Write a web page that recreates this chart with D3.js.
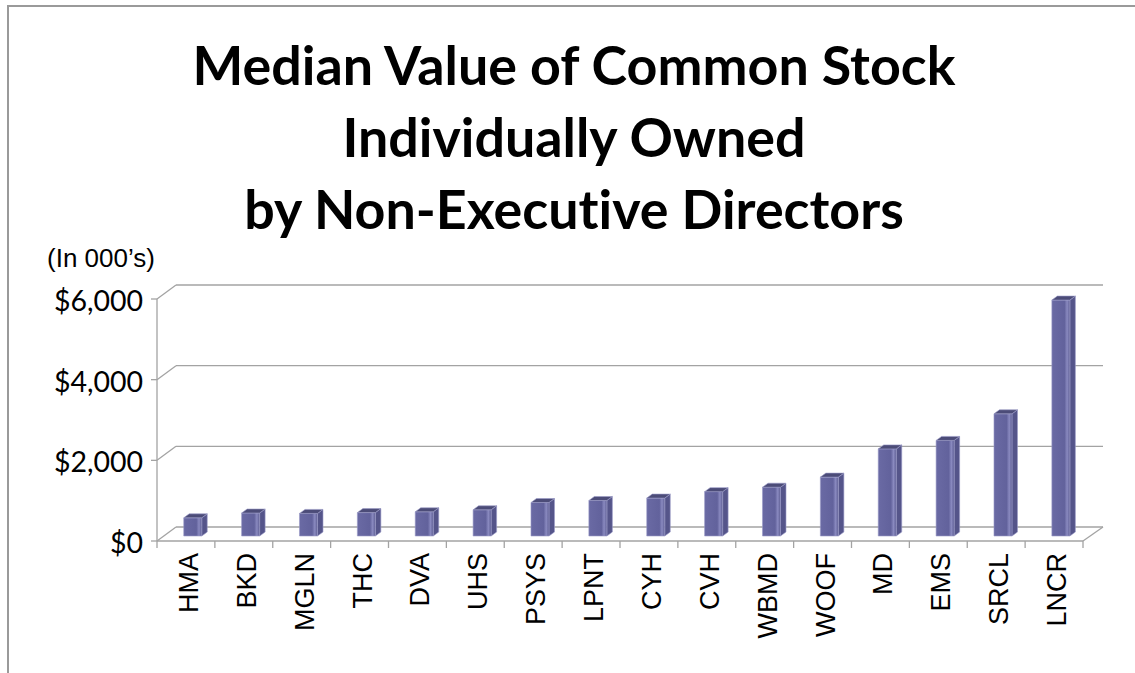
<!DOCTYPE html>
<html>
<head>
<meta charset="utf-8">
<script src="https://cdn.jsdelivr.net/npm/d3@7/dist/d3.min.js"></script>
<style>
  html, body { margin: 0; padding: 0; background: #fff; }
  svg { display: block; }
  text { font-variant-ligatures: none; font-feature-settings: "liga" 0; }
</style>
</head>
<body>
<svg id="chart" width="1135" height="673"></svg>
<script>
// ---- Data ----
const categories = ["HMA","BKD","MGLN","THC","DVA","UHS","PSYS","LPNT","CYH","CVH","WBMD","WOOF","MD","EMS","SRCL","LNCR"];
const values = [450, 570, 560, 580, 600, 650, 830, 880, 940, 1100, 1210, 1460, 2160, 2370, 3030, 5850];
const yTicks = [0, 2000, 4000, 6000];
const titleLines = ["Median Value of Common Stock", "Individually Owned", "by Non-Executive Directors"];
const unitLabel = "(In 000\u2019s)";

// ---- Layout ----
const W = 1135, H = 673;
const svg = d3.select("#chart");
svg.append("rect").attr("width", W).attr("height", H).attr("fill", "#fff");

const frontL = 157, frontR = 1083, frontBottom = 541, frontTop = 299;
const depthX = 19, depthY = -14;

const x = d3.scaleBand().domain(categories).range([frontL, frontR]);
const y = d3.scaleLinear().domain([0, 6000]).range([frontBottom, frontTop]);

// Border
svg.append("path")
  .attr("d", `M8,${H} L8,6 L${W},6`)
  .attr("fill", "none").attr("stroke", "#9a9a9a").attr("stroke-width", 2);

// Title
const titleG = svg.append("g");
const baselines = [85, 157, 229];
const titleEls = titleLines.map((t, i) =>
  titleG.append("text")
    .attr("x", 574).attr("y", baselines[i])
    .attr("text-anchor", "middle")
    .style("font-family", "Lato, 'Open Sans', sans-serif")
    .style("font-weight", "bold")
    .style("font-size", "50px")
    .attr("fill", "#000")
    .text(t));
const w0 = titleEls[0].node().getComputedTextLength();
const fs = 50 * 763 / w0;
titleEls.forEach(e => e.style("font-size", fs + "px"));

// Grid (back wall) lines
const gridColor = "#a3a3a3";
const grid = svg.append("g").attr("stroke", gridColor).attr("stroke-width", 1.3).attr("fill", "none");
yTicks.forEach(v => {
  grid.append("line")
    .attr("x1", frontL + depthX).attr("x2", frontR + depthX + 1)
    .attr("y1", y(v) + depthY).attr("y2", y(v) + depthY);
  grid.append("line")
    .attr("x1", frontL).attr("x2", frontL + depthX)
    .attr("y1", y(v)).attr("y2", y(v) + depthY);
});
grid.append("line")
  .attr("x1", frontR).attr("y1", y(0))
  .attr("x2", frontR + depthX + 1).attr("y2", y(0) + depthY);

// Front y axis
grid.append("line").attr("x1", frontL).attr("x2", frontL).attr("y1", y(0)).attr("y2", y(6000));
yTicks.forEach(v => {
  grid.append("line").attr("x1", frontL - 6).attr("x2", frontL).attr("y1", y(v)).attr("y2", y(v));
});
// Front x axis
grid.append("line").attr("x1", frontL).attr("x2", frontR).attr("y1", y(0)).attr("y2", y(0));
categories.concat([null]).forEach((c, i) => {
  const xx = frontL + i * x.bandwidth();
  grid.append("line").attr("x1", xx).attr("x2", xx).attr("y1", y(0)).attr("y2", y(0) + 7);
});

// Y tick labels
const fmt = d3.format("$,");
svg.append("g").selectAll("text").data(yTicks).join("text")
  .attr("x", 143).attr("y", d => y(d) + 12)
  .attr("text-anchor", "end")
  .style("font-family", "Lato, 'Open Sans', sans-serif")
  .style("font-size", "28.5px")
  .attr("fill", "#000")
  .text(d => fmt(d));

// Unit label
svg.append("text")
  .attr("x", 47).attr("y", 267)
  .style("font-family", "'Liberation Sans', Arial, sans-serif")
  .style("font-size", "26px")
  .attr("fill", "#000")
  .text(unitLabel);

// X labels
svg.append("g").selectAll("text").data(categories).join("text")
  .attr("transform", d => `translate(${x(d) + x.bandwidth() / 2 + 12},553) rotate(-90)`)
  .attr("text-anchor", "end")
  .style("font-family", "'Liberation Sans', Arial, sans-serif")
  .style("font-size", "27px")
  .attr("fill", "#000")
  .text(d => d);

// Bars (3D)
const defs = svg.append("defs");
const grad = defs.append("linearGradient").attr("id", "frontGrad").attr("x1", 0).attr("x2", 1).attr("y1", 0).attr("y2", 0);
grad.append("stop").attr("offset", "0%").attr("stop-color", "#6a6aa4");
grad.append("stop").attr("offset", "70%").attr("stop-color", "#62629c");
grad.append("stop").attr("offset", "85%").attr("stop-color", "#8a8ac0");
grad.append("stop").attr("offset", "100%").attr("stop-color", "#5c5c92");

const faceW = 18, bdx = 5.5, bdy = -4, shiftX = 6.8, shiftY = -5;
const bars = svg.append("g");
categories.forEach((c, i) => {
  const v = values[i];
  const cx = x(c) + x.bandwidth() / 2;
  const x0 = cx + shiftX - faceW / 2;
  const yb = y(0) + shiftY, yt = y(v) + shiftY;
  const g = bars.append("g").attr("stroke", "#9a9ac8").attr("stroke-width", 0.6).attr("stroke-linejoin", "round");
  g.append("path")
    .attr("d", `M${x0 + faceW},${yt} L${x0 + faceW + bdx},${yt + bdy} L${x0 + faceW + bdx},${yb + bdy} L${x0 + faceW},${yb} Z`)
    .attr("fill", "#55558a");
  g.append("rect")
    .attr("x", x0).attr("y", yt).attr("width", faceW).attr("height", yb - yt)
    .attr("fill", "url(#frontGrad)");
  g.append("path")
    .attr("d", `M${x0},${yt} L${x0 + bdx},${yt + bdy} L${x0 + faceW + bdx},${yt + bdy} L${x0 + faceW},${yt} Z`)
    .attr("fill", "#4c4c78");
});
</script>
</body>
</html>
